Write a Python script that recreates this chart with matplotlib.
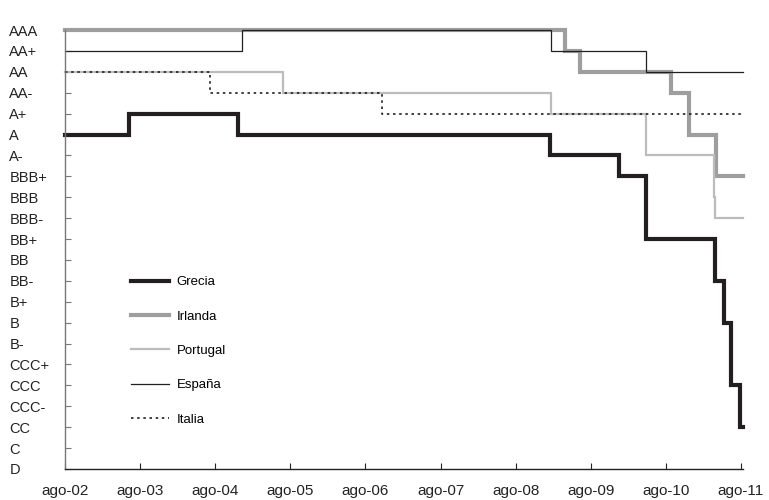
import matplotlib
matplotlib.use('Agg')
import matplotlib.pyplot as plt
import matplotlib.dates as mdates
import pandas as pd

plt.rcParams['font.family'] = ['Liberation Sans', 'DejaVu Sans']

ratings = ['D', 'C', 'CC', 'CCC-', 'CCC', 'CCC+', 'B-', 'B', 'B+', 'BB-', 'BB',
           'BB+', 'BBB-', 'BBB', 'BBB+', 'A-', 'A', 'A+', 'AA-', 'AA', 'AA+', 'AAA']

start_date = '2002-08-01'
end_date = '2011-08-11'

tick_dates = ['2002-08-01', '2003-08-01', '2004-08-01', '2005-08-01', '2006-08-01',
              '2007-08-01', '2008-08-01', '2009-08-01', '2010-08-01', '2011-08-01']
tick_labels = ['ago-02', 'ago-03', 'ago-04', 'ago-05', 'ago-06',
               'ago-07', 'ago-08', 'ago-09', 'ago-10', 'ago-11']

grecia_dates = ['2002-08-01', '2003-06-10', '2004-11-17', '2009-01-14', '2009-12-16',
                '2010-04-27', '2011-03-29', '2011-05-09', '2011-06-13', '2011-07-27']
grecia_ratings = ['A', 'A+', 'A', 'A-', 'BBB+', 'BB+', 'BB-', 'B', 'CCC', 'CC']

irlanda_dates = ['2002-08-01', '2009-03-30', '2009-06-08', '2010-08-24', '2010-11-23', '2011-04-01']
irlanda_ratings = ['AAA', 'AA+', 'AA', 'AA-', 'A', 'BBB+']

portugal_dates = ['2002-08-01', '2005-06-27', '2009-01-21', '2010-04-27', '2011-03-24', '2011-03-29']
portugal_ratings = ['AA', 'AA-', 'A+', 'A-', 'BBB', 'BBB-']

espana_dates = ['2002-08-01', '2004-12-08', '2009-01-19', '2010-04-28']
espana_ratings = ['AA+', 'AAA', 'AA+', 'AA']

italia_dates = ['2002-08-01', '2004-07-07', '2006-10-19']
italia_ratings = ['AA', 'AA-', 'A+']

series = [
    ('Grecia', grecia_dates, grecia_ratings, dict(color='#231f20', lw=3.0, ls='-')),
    ('Irlanda', irlanda_dates, irlanda_ratings, dict(color='#9e9e9e', lw=3.0, ls='-')),
    ('Portugal', portugal_dates, portugal_ratings, dict(color='#bcbcbc', lw=1.6, ls='-')),
    ('España', espana_dates, espana_ratings, dict(color='#231f20', lw=0.9, ls='-')),
    ('Italia', italia_dates, italia_ratings, dict(color='#231f20', lw=1.2, ls=(0, (1.5, 2.2)))),
]

fig = plt.figure(figsize=(7.69, 5.0), dpi=100)
ax = fig.add_axes([65 / 769, 1 - 469 / 500, (743 - 65) / 769, (469 - 30) / 500])

idx = {r: i for i, r in enumerate(ratings)}
for name, dates, rts, style in series:
    d = list(pd.to_datetime(dates)) + [pd.Timestamp(end_date)]
    v = [idx[r] for r in rts] + [idx[rts[-1]]]
    ax.plot(d, v, drawstyle='steps-post', label=name, clip_on=False,
            solid_joinstyle='miter', **style)

ax.set_xlim(pd.Timestamp(start_date), pd.Timestamp(end_date))
ax.set_ylim(0, len(ratings) - 1)

ax.set_yticks(range(len(ratings)))
ax.set_yticklabels(ratings, fontsize=10.5, ha='left')
ax.tick_params(axis='y', direction='in', length=4, width=0.8, color='#777777',
               pad=40, labelcolor='#222222')

ax.set_xticks(pd.to_datetime(tick_dates))
ax.set_xticklabels(tick_labels, fontsize=11)
ax.tick_params(axis='x', direction='in', length=4, width=0.8, color='#222222',
               pad=11, labelcolor='#222222')

for s in ['top', 'right']:
    ax.spines[s].set_visible(False)
ax.spines['left'].set_color('#777777')
ax.spines['left'].set_linewidth(1.0)
ax.spines['bottom'].set_color('#222222')
ax.spines['bottom'].set_linewidth(1.0)

leg = ax.legend(loc='upper left', bbox_to_anchor=(131 / 769, 1 - 276 / 500),
                bbox_transform=fig.transFigure, frameon=False, fontsize=9.5,
                handlelength=2.85, handletextpad=0.6, labelspacing=1.68,
                borderpad=0, borderaxespad=0)

fig.savefig('out.png', dpi=100)
